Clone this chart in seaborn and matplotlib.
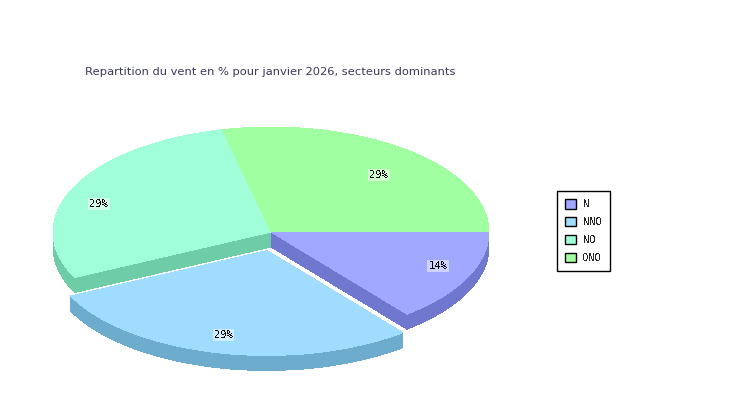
#!/usr/bin/env python3
"""Wind sector share as a tilted pie with a fake 3D side wall."""

import matplotlib
matplotlib.use("Agg")
import matplotlib.pyplot as plt
import seaborn as sns
from matplotlib.patches import Patch

sectors = ["N", "NNO", "NO", "ONO"]
shares = [14.29, 28.57, 28.57, 28.57]
top_colors = ["#A0A8FF", "#A0DCFF", "#A0FFD8", "#A0FFA0"]
side_colors = ["#6F78CE", "#6EACCE", "#6ECCA6", "#6ECC6E"]
title = "Repartition du vent en % pour janvier 2026, secteurs dominants"

W, H = 750, 400
CX, CY, RX, RY = 271, 232, 218, 105
DEPTH_PX = 15
# NNO slice is pulled out of the pie, in pixels
PULL_DX, PULL_DY = -4, 18.5
# label nudges per slice, in pixels (right, down)
label_nudges = [(8, -3), (0, 0), (-13, 9), (-2, 9.5)]

sns.set_theme(style="white")
plt.rcParams["font.family"] = ["DejaVu Sans"]

fig = plt.figure(figsize=(W / 100, H / 100), dpi=100)
ax = fig.add_axes([(CX - 1.25 * RX) / W, 1 - (CY + 1.25 * RY) / H, 2.5 * RX / W, 2.5 * RY / H])

flat = {"linewidth": 0, "antialiased": False}


def pull_out(wedge, drop_px):
    wedge.set_center((PULL_DX / RX, -(PULL_DY + drop_px) / RY))


# side wall: same pie stacked pixel by pixel
for px in range(DEPTH_PX, 0, -1):
    wedges, _ = ax.pie(shares, colors=side_colors, startangle=0, counterclock=False,
                       center=(0, -px / RY), wedgeprops=flat)
    pull_out(wedges[1], px)

wedges, _, pct_texts = ax.pie(shares, colors=top_colors, startangle=0, counterclock=False,
                              autopct="%.0f%%", pctdistance=0.81, wedgeprops=flat)
pull_out(wedges[1], 0)

for i, t in enumerate(pct_texts):
    x, y = t.get_position()
    dx, dy = label_nudges[i]
    if i == 1:
        dx, dy = PULL_DX - 4, PULL_DY + 1.5
    t.set_position((x + dx / RX, y - dy / RY))
    t.set_fontfamily("DejaVu Sans Mono")
    t.set_fontsize(7.5)
    t.set_color("black")
    t.set_antialiased(False)
    t.set_bbox(dict(facecolor="white", alpha=0.5, edgecolor="none", pad=1))

ax.set_aspect("auto")
ax.set_xlim(-1.25, 1.25)
ax.set_ylim(-1.25, 1.25)

fig.text(85 / W, 1 - 72 / H, title, fontsize=8.26, color="#3A3A5C", ha="left", va="center")

handles = [Patch(facecolor=c, edgecolor="black", linewidth=1) for c in top_colors]
leg = fig.legend(handles, sectors, loc="upper left", bbox_to_anchor=(557 / W, 1 - 191 / H),
                 borderaxespad=0, fancybox=False, framealpha=1, edgecolor="black",
                 handlelength=1.05, handleheight=1.05, handletextpad=0.67, labelspacing=0.72,
                 borderpad=0.76, prop={"family": "DejaVu Sans Mono", "size": 7.5})
leg.get_frame().set_linewidth(1)
for t in leg.get_texts():
    t.set_antialiased(False)

fig.savefig("out.png", dpi=100)
